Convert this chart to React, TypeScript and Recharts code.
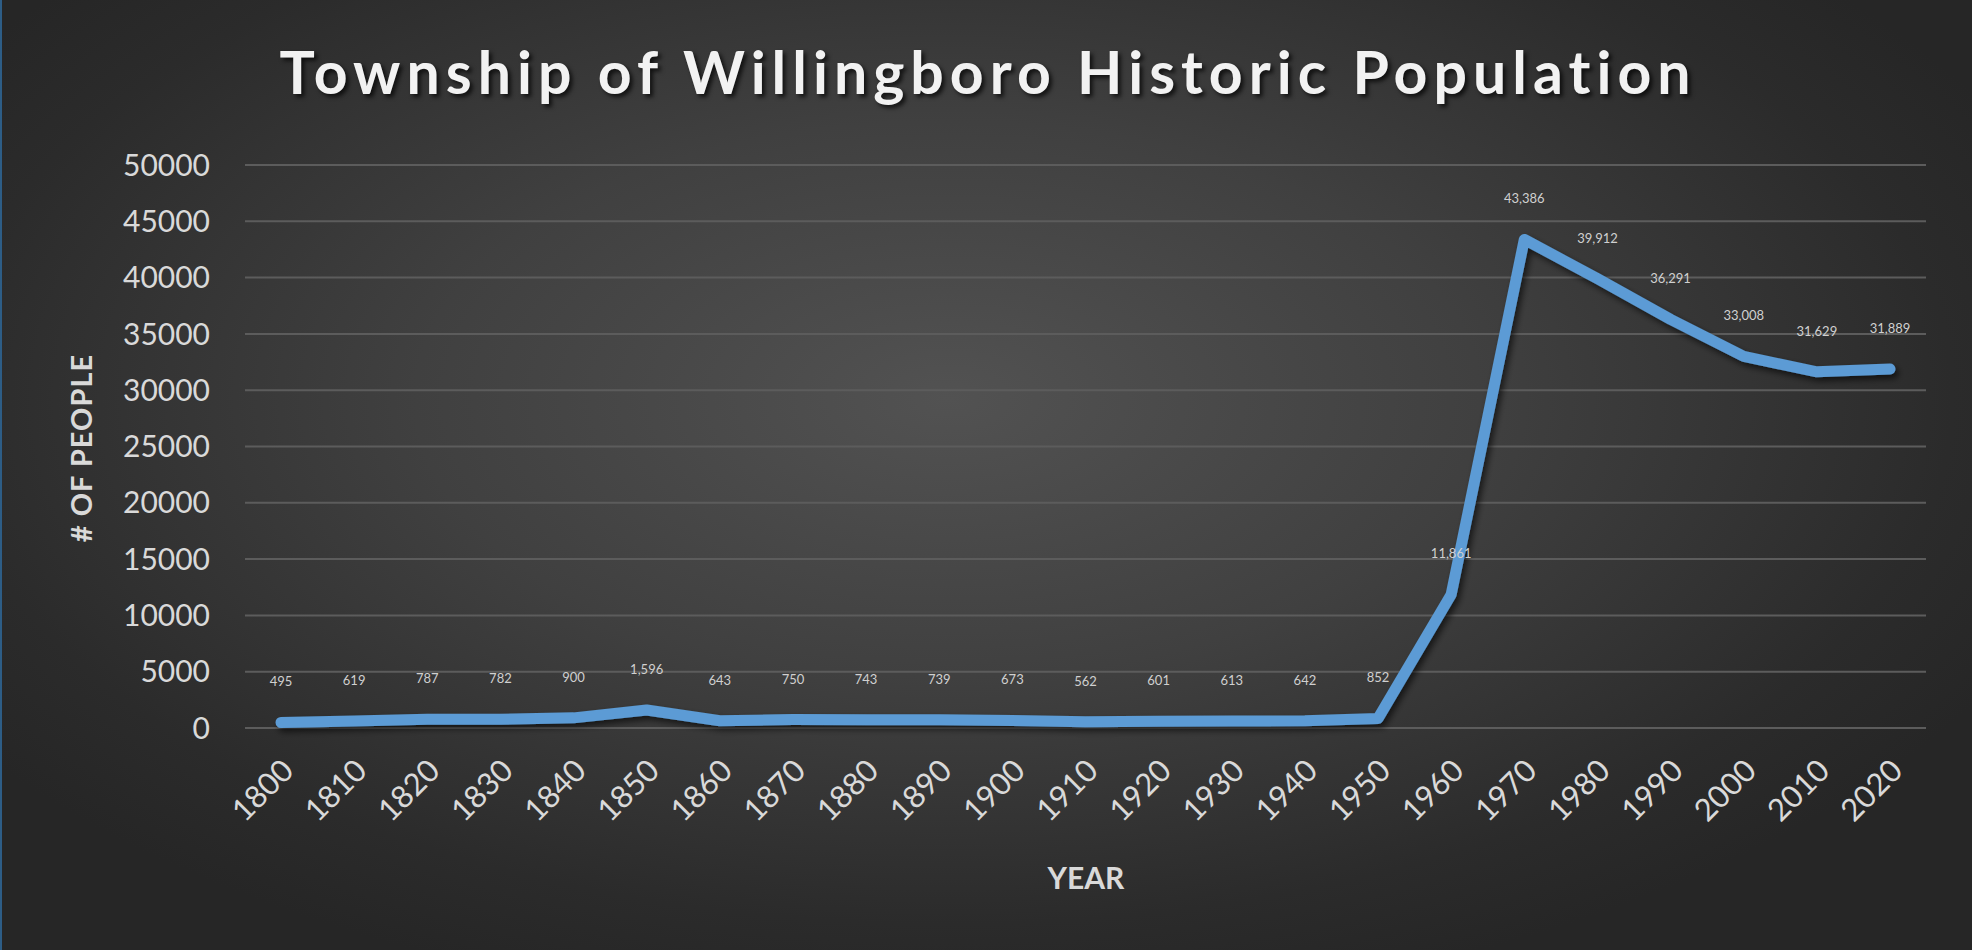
import React from "react";
import { LineChart, Line, XAxis, YAxis, CartesianGrid, LabelList } from "recharts";

const years = [
  "1800", "1810", "1820", "1830", "1840", "1850", "1860", "1870", "1880", "1890", "1900", "1910",
  "1920", "1930", "1940", "1950", "1960", "1970", "1980", "1990", "2000", "2010", "2020",
];
const population = [
  495, 619, 787, 782, 900, 1596, 643, 750, 743, 739, 673, 562,
  601, 613, 642, 852, 11861, 43386, 39912, 36291, 33008, 31629, 31889,
];
const yTicks = [0, 5000, 10000, 15000, 20000, 25000, 30000, 35000, 40000, 45000, 50000];

const chartData = years.map((year, i) => ({ year, people: population[i] }));

const FONT = "Lato, 'Open Sans', sans-serif";

function YearTick({ x, y, payload }: any) {
  return (
    <text
      x={x + 6}
      y={y + 28}
      transform={`rotate(-45 ${x + 6} ${y + 28})`}
      textAnchor="end"
      dominantBaseline="central"
      fill="#d9d9d9"
      fontSize={31}
      fontFamily={FONT}
    >
      {payload.value}
    </text>
  );
}

function App() {
  return (
    <div
      style={{
        position: "absolute",
        left: 0,
        top: 0,
        width: 1972,
        height: 950,
        overflow: "hidden",
        background:
          "radial-gradient(ellipse 60% 65% at 48% 42%, #525252 0%, #404040 45%, #2b2b2b 85%, #262626 100%)",
        borderLeft: "2px solid #2d5d86",
        boxSizing: "border-box",
        fontFamily: FONT,
      }}
    >
      <div
        style={{
          position: "absolute",
          left: 0,
          width: 1972,
          top: 36,
          textAlign: "center",
          color: "#f2f2f2",
          fontWeight: 700,
          fontSize: 59,
          letterSpacing: 6,
          textShadow: "3px 3px 4px rgba(0,0,0,0.7)",
        }}
      >
        Township of Willingboro Historic Population
      </div>
      <div
        style={{
          position: "absolute",
          left: 78,
          top: 448,
          transform: "translate(-50%, -50%) rotate(-90deg)",
          whiteSpace: "nowrap",
          color: "#d9d9d9",
          fontWeight: 700,
          fontSize: 29,
          letterSpacing: 1,
        }}
      >
        # OF PEOPLE
      </div>
      <div
        style={{
          position: "absolute",
          left: 1084,
          top: 877,
          transform: "translate(-50%, -50%)",
          color: "#d9d9d9",
          fontWeight: 700,
          fontSize: 30,
        }}
      >
        YEAR
      </div>
      <LineChart
        width={1970}
        height={950}
        data={chartData}
        margin={{ top: 165, right: 46, left: 143, bottom: 122 }}
      >
        <defs>
          <filter id="lineShadow" x="-10%" y="-10%" width="120%" height="120%">
            <feDropShadow dx="3" dy="4" stdDeviation="3" floodColor="#000" floodOpacity="0.6" />
          </filter>
        </defs>
        <CartesianGrid vertical={false} stroke="#5c5c5c" strokeWidth={2} />
        <XAxis
          dataKey="year"
          height={100}
          axisLine={false}
          tickLine={false}
          interval={0}
          padding={{ left: 36, right: 36 }}
          tick={<YearTick />}
        />
        <YAxis
          width={100}
          domain={[0, 50000]}
          ticks={yTicks}
          axisLine={false}
          tickLine={false}
          tickSize={0}
          tickMargin={35}
          tick={{ fill: "#d9d9d9", fontSize: 30, fontFamily: FONT }}
        />
        <Line
          type="linear"
          dataKey="people"
          stroke="#5b9bd5"
          strokeWidth={11}
          strokeLinejoin="round"
          strokeLinecap="round"
          filter="url(#lineShadow)"
          dot={false}
          isAnimationActive={false}
        >
          <LabelList
            dataKey="people"
            position="top"
            offset={36}
            fill="#d0d0d0"
            fontSize={13}
            fontFamily={FONT}
            formatter={(v: any) => Number(v).toLocaleString("en-US")}
          />
        </Line>
      </LineChart>
    </div>
  );
}

export default App;
